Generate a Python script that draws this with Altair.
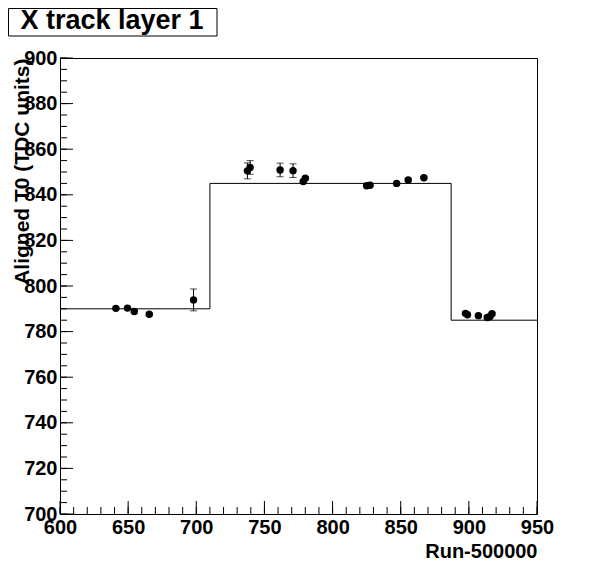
import altair as alt
import pandas as pd

# data points
runs = [641, 649.5, 654.5, 665.5, 698, 737.5, 739.5, 761.5, 771, 778.5, 780,
        825, 827.5, 847, 855.5, 867, 897.5, 899, 907, 913.5, 915.5, 917]
t0 = [790.2, 790.3, 788.8, 787.6, 793.9, 850.5, 852, 850.9, 850.6, 845.8, 847.3,
      844, 844.2, 845, 846.5, 847.5, 788, 787.4, 787, 786.2, 786.6, 787.8]
err = [0.6, 0.6, 0.6, 0.6, 4.8, 3.5, 3.0, 3.0, 3.0, 0.6, 0.6,
       0.5, 0.5, 0.5, 0.5, 0.5, 0.6, 0.6, 0.6, 0.6, 0.6, 0.6]

# step function (alignment constants)
step_x = [600, 710, 887, 950]
step_y = [790, 845, 785, 785]

x_major = [600, 650, 700, 750, 800, 850, 900, 950]
x_minor = list(range(600, 951, 10))
y_major = [700, 720, 740, 760, 780, 800, 820, 840, 860, 880, 900]
y_minor = list(range(700, 901, 5))

W, H = 477, 456
FONT = "Liberation Sans"

pts = pd.DataFrame({"run": runs, "t0": t0, "lo": [a - b for a, b in zip(t0, err)],
                    "hi": [a + b for a, b in zip(t0, err)]})
step = pd.DataFrame({"run": step_x, "t0": step_y})

xs = alt.Scale(domain=[600, 950], nice=False, zero=False)
ys = alt.Scale(domain=[700, 900], nice=False, zero=False)

xaxis = alt.Axis(values=x_major, ticks=False, grid=False, domain=False,
                 labelFont=FONT, labelFontWeight="bold", labelFontSize=20,
                 labelColor="black", labelPadding=3, labelFlush=False,
                 title="Run-500000", titleFont=FONT, titleFontWeight="bold",
                 titleFontSize=20, titleColor="black", titleAnchor="end",
                 titleAlign="right", titleX=W, titleY=43, titleBaseline="alphabetic")
yaxis = alt.Axis(values=y_major, ticks=False, grid=False, domain=False,
                 labelFont=FONT, labelFontWeight="bold", labelFontSize=20,
                 labelColor="black", labelPadding=3, labelFlush=False,
                 title="Aligned T0 (TDC units)", titleFont=FONT, titleFontWeight="bold",
                 titleFontSize=21, titleColor="black", titleAnchor="end",
                 titleAngle=270, titleAlign="right", titleBaseline="middle",
                 titleX=-38, titleY=0)

base_pts = alt.Chart(pts)

line = alt.Chart(step).mark_line(interpolate="step-after", color="black",
                                 strokeWidth=1).encode(
    x=alt.X("run:Q", scale=xs, axis=xaxis),
    y=alt.Y("t0:Q", scale=ys, axis=yaxis),
)

errbars = base_pts.mark_rule(color="black", strokeWidth=1).encode(
    x=alt.X("run:Q", scale=xs), y=alt.Y("lo:Q", scale=ys), y2="hi:Q")
capsl = base_pts.mark_tick(color="black", thickness=1, size=7, orient="horizontal").encode(
    x=alt.X("run:Q", scale=xs), y=alt.Y("lo:Q", scale=ys))
capsh = base_pts.mark_tick(color="black", thickness=1, size=7, orient="horizontal").encode(
    x=alt.X("run:Q", scale=xs), y=alt.Y("hi:Q", scale=ys))
dots = base_pts.mark_point(filled=True, color="black", opacity=1, size=55, shape="circle").encode(
    x=alt.X("run:Q", scale=xs), y=alt.Y("t0:Q", scale=ys))

xmaj = pd.DataFrame({"v": x_major})
xmin = pd.DataFrame({"v": x_minor})
ymaj = pd.DataFrame({"v": y_major})
ymin = pd.DataFrame({"v": y_minor})

xt_maj = alt.Chart(xmaj).mark_rule(color="black", strokeWidth=1).encode(
    x=alt.X("v:Q", scale=xs), y=alt.value(H), y2=alt.value(H - 13))
xt_min = alt.Chart(xmin).mark_rule(color="black", strokeWidth=1).encode(
    x=alt.X("v:Q", scale=xs), y=alt.value(H), y2=alt.value(H - 7))
yt_maj = alt.Chart(ymaj).mark_rule(color="black", strokeWidth=1).encode(
    y=alt.Y("v:Q", scale=ys), x=alt.value(0), x2=alt.value(13))
yt_min = alt.Chart(ymin).mark_rule(color="black", strokeWidth=1).encode(
    y=alt.Y("v:Q", scale=ys), x=alt.value(0), x2=alt.value(7))

title_df = pd.DataFrame({"t": ["X track layer 1"]})
box = alt.Chart(title_df).mark_rect(fill="white", stroke="black", strokeWidth=1,
                                    clip=False).encode(
    x=alt.value(-51.5), x2=alt.value(157), y=alt.value(-49.5), y2=alt.value(-22))
ttext = alt.Chart(title_df).mark_text(font=FONT, fontWeight="bold", fontSize=27,
                                      color="black", align="center", baseline="middle",
                                      clip=False).encode(
    text="t:N", x=alt.value(52), y=alt.value(-37))

chart = alt.layer(line, errbars, capsl, capsh, dots, xt_maj, xt_min, yt_maj, yt_min,
                  box, ttext).properties(
    width=W, height=H,
    autosize=alt.AutoSizeParams(type="none"),
    padding={"left": 52, "top": 50, "right": 40, "bottom": 55},
    background="white",
).configure_view(stroke="black", strokeWidth=1, fill="white")

chart.save("out.html", embed_options={"renderer": "svg", "actions": False})
